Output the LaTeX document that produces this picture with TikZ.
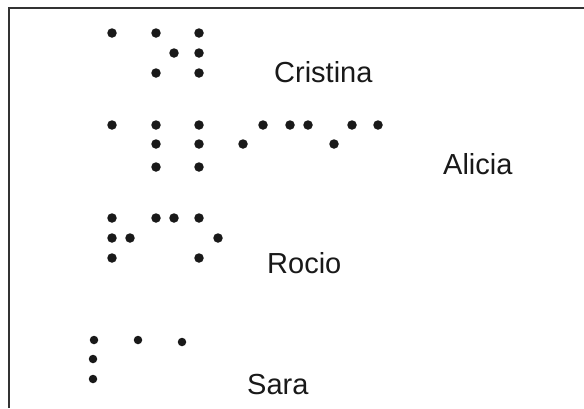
\documentclass[tikz,border=0pt]{standalone}
\usepackage{fontspec}
\setmainfont{Liberation Sans}

\begin{document}
\begin{tikzpicture}[x=1pt, y=-1pt,
    brailledot/.style={circle, fill=black!90, inner sep=0pt, minimum size=9.5pt},
    person/.style={anchor=base west, inner sep=0pt, text=black!90, font=\fontsize{29}{34}\selectfont},
    frameline/.style={line width=2.2pt, black!80}
]
\useasboundingbox (0,0) rectangle (584,408);

% Frame (top and left edges only)
\coordinate (fbl) at (9,408);
\coordinate (ftl) at (9,8);
\coordinate (ftr) at (584,8);
\draw[frameline] (fbl) -- (ftl) -- (ftr);

% Cristina
\foreach \x/\y [count=\i] in {112/33, 156/33, 174/53, 156/73, 199/33, 199/53, 199/73}
    \node[brailledot] (cris\i) at (\x,\y) {};
\node[person] (cristina) at (274,82) {Cristina};

% Alicia
\foreach \x/\y [count=\i] in {112/125, 156/125, 156/144, 156/167, 199/125, 199/144, 199/167,
    243/144, 263/125, 290/125, 308/125, 334/144, 352/125, 378/125}
    \node[brailledot] (ali\i) at (\x,\y) {};
\node[person] (alicia) at (443,174) {Alicia};

% Rocio
\foreach \x/\y [count=\i] in {112/218, 112/238, 112/258, 130/238, 156/218, 174/218,
    199/218, 218/238, 199/258}
    \node[brailledot] (roc\i) at (\x,\y) {};
\node[person] (rocio) at (267,273) {Rocio};

% Sara
\foreach \x/\y [count=\i] in {94/340, 93/359, 93/379, 138/340, 182/342}
    \node[brailledot, minimum size=8.5pt] (sar\i) at (\x,\y) {};
\node[person] (sara) at (247,394) {Sara};

\end{tikzpicture}
\end{document}
